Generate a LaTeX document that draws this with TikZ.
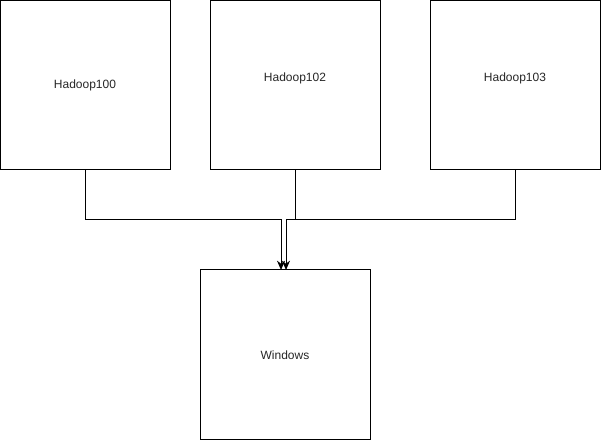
\documentclass[tikz,border=0pt]{standalone}
\usepackage{fontspec}
\setmainfont{Liberation Sans}
\usetikzlibrary{arrows.meta}
\begin{document}
\begin{tikzpicture}[x=0.75pt,y=-0.75pt,
  box/.style={draw=black,line width=0.75pt,minimum width=127.5pt,minimum height=127.5pt,inner sep=0pt,outer sep=0pt},
  topbox/.style={box,minimum height=127.125pt},
  lbl/.style={font=\fontsize{9pt}{11pt}\selectfont,text=black!85},
  conn/.style={draw=black,line width=0.75pt},
  arr/.style={conn,-{Stealth[length=7pt,width=6pt]}}]
\useasboundingbox (0,0) rectangle (601,441);
\node[topbox] (h100) at (85,85.25) {};
\node[topbox] (h102) at (295,85.25) {};
\node[topbox] (h103) at (515,85.25) {};
\node[box] (win) at (285,355) {};
\node[lbl] (t100) at (85,85) {Hadoop100};
\node[lbl] (t102) at (295,78) {Hadoop102};
\node[lbl] (t103) at (515,78) {Hadoop103};
\node[lbl] (twin) at (285,355) {Windows};
\coordinate (a1) at (281,270);
\coordinate (a2) at (286,270);
\draw[arr] (h100.south) |- (281,220) -- (a1);
\draw[arr] (h103.south) |- (286,220) -- (a2);
\draw[conn] (h102.south) -- (295,220);
\end{tikzpicture}
\end{document}
